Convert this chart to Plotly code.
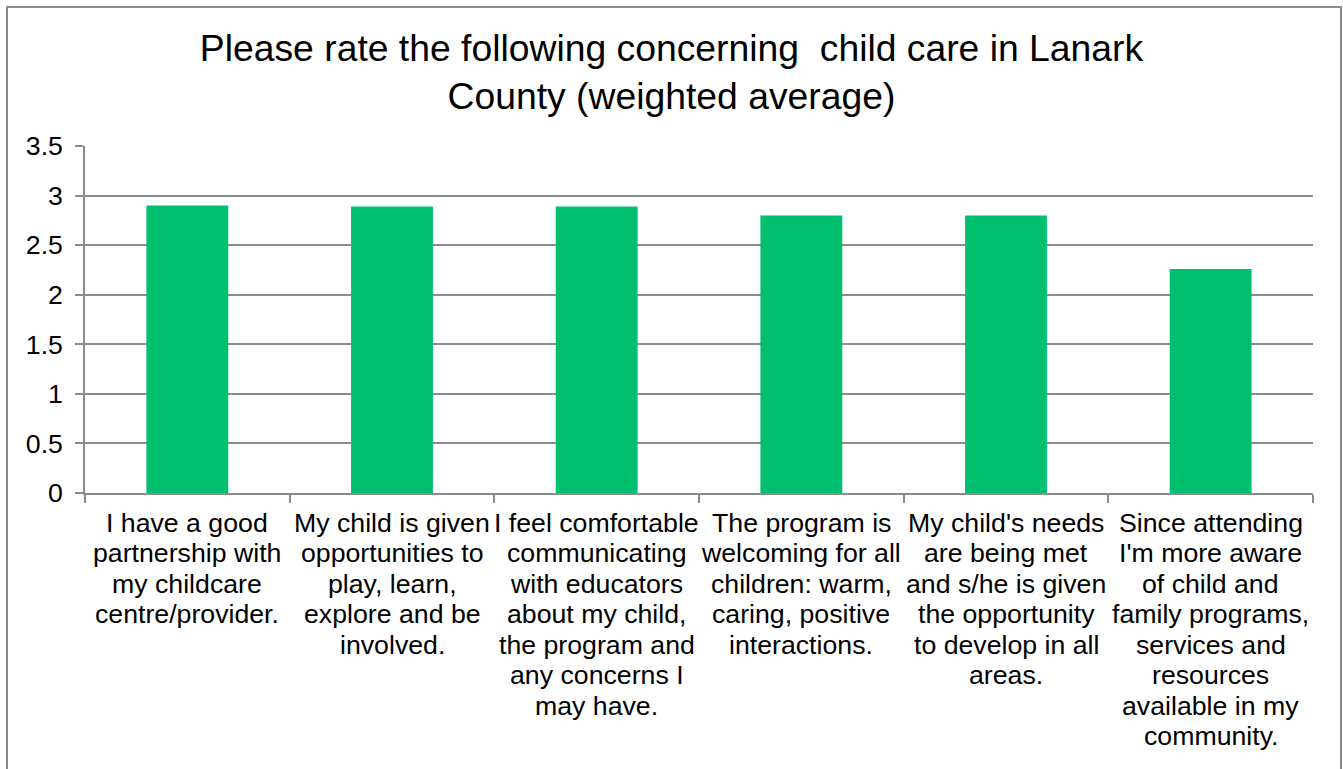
import plotly.graph_objects as go

categories = [
    "I have a good<br>partnership with<br>my childcare<br>centre/provider.",
    "My child is given<br>opportunities to<br>play, learn,<br>explore and be<br>involved.",
    "I feel comfortable<br>communicating<br>with educators<br>about my child,<br>the program and<br>any concerns I<br>may have.",
    "The program is<br>welcoming for all<br>children: warm,<br>caring, positive<br>interactions.",
    "My child's needs<br>are being met<br>and s/he is given<br>the opportunity<br>to develop in all<br>areas.",
    "Since attending<br>I'm more aware<br>of child and<br>family programs,<br>services and<br>resources<br>available in my<br>community.",
]
values = [2.90, 2.89, 2.89, 2.80, 2.80, 2.26]
title_text = "Please rate the following concerning  child care in Lanark<br>County (weighted average)"

FONT = "Liberation Sans, Arial, sans-serif"
GRID = "#8c8c8c"
TICK_SIZE = 26.7
LINE_STEP = 30.5

fig = go.Figure(go.Bar(x=categories, y=values, marker=dict(color="#00BF6F", line=dict(width=0))))

# category labels, one annotation per text line (Excel-like tighter line spacing)
annotations = []
for cat in categories:
    for j, line in enumerate(cat.split("<br>")):
        annotations.append(dict(
            x=cat, xref="x", y=0, yref="paper", yanchor="middle", xanchor="center",
            yshift=-(29.5 + LINE_STEP * j), text=line, showarrow=False,
            font=dict(family=FONT, size=TICK_SIZE, color="black")))

fig.update_layout(
    width=1343, height=769,
    margin=dict(l=85, r=30, t=146, b=276, autoexpand=False),
    paper_bgcolor="white", plot_bgcolor="white",
    bargap=0.6,
    showlegend=False,
    font=dict(family=FONT, size=TICK_SIZE, color="black"),
    title=dict(text=title_text, x=0.5, xanchor="center", xref="container", y=1 - 61 / 769, yanchor="middle",
               font=dict(family=FONT, size=37.3, color="black")),
    annotations=annotations,
    shapes=[dict(type="rect", xref="paper", yref="paper",
                 x0=(7 - 85) / 1228, x1=(1341 - 85) / 1228, y0=-0.9, y1=(493 - 7) / 347,
                 line=dict(color="#8c8c8c", width=2), fillcolor="rgba(0,0,0,0)", layer="below")],
)
fig.update_yaxes(range=[0, 3.5], dtick=0.5, showgrid=True, gridcolor=GRID, gridwidth=1.5,
                 showline=True, linecolor=GRID, linewidth=1.5, ticks="outside", ticklen=8,
                 tickcolor=GRID, tickwidth=1.5, zeroline=False, ticklabelstandoff=7,
                 tickfont=dict(family=FONT, size=TICK_SIZE, color="black"))
fig.update_xaxes(showline=True, linecolor=GRID, linewidth=1.5, ticks="outside", ticklen=8,
                 tickcolor=GRID, tickwidth=1.5, tickson="boundaries", showgrid=False,
                 showticklabels=False)

fig.write_html("out.html", config={"displayModeBar": False},
               post_script="document.body.style.margin='0';")
